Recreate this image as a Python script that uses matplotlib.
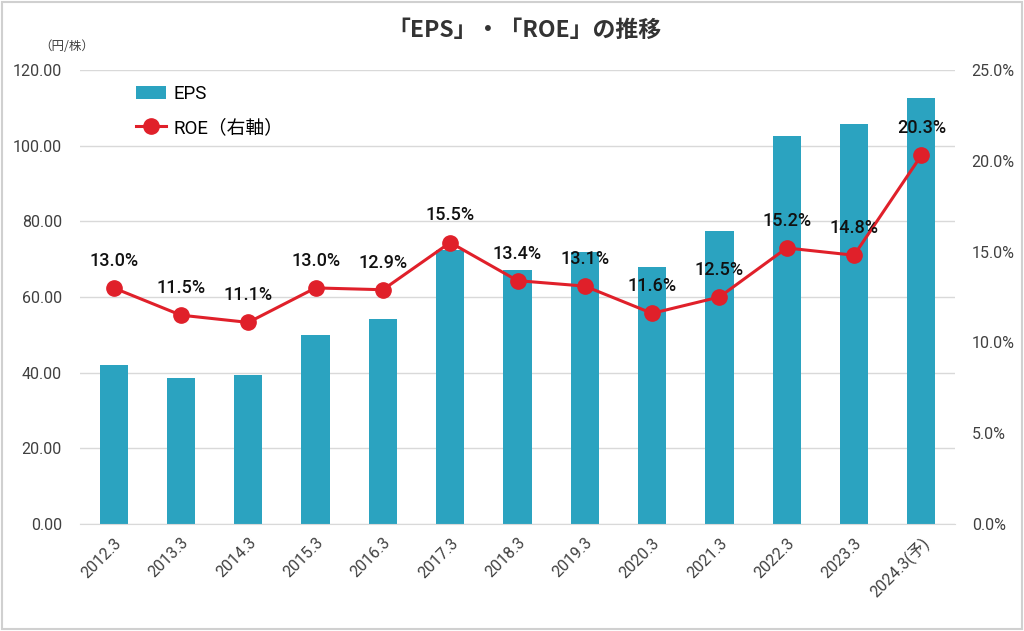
import matplotlib
matplotlib.use("Agg")
import matplotlib.pyplot as plt
from matplotlib.lines import Line2D
from matplotlib.patches import Patch
import numpy as np

categories = ["2012.3", "2013.3", "2014.3", "2015.3", "2016.3", "2017.3", "2018.3",
              "2019.3", "2020.3", "2021.3", "2022.3", "2023.3", "2024.3(予)"]
eps = [42.0, 38.6, 39.4, 50.0, 54.2, 72.4, 67.1, 71.9, 67.9, 77.5, 102.6, 105.7, 112.6]
roe = [13.0, 11.5, 11.1, 13.0, 12.9, 15.5, 13.4, 13.1, 11.6, 12.5, 15.2, 14.8, 20.3]

fam = ["Roboto", "Noto Sans CJK JP", "DejaVu Sans"]
plt.rcParams['font.family'] = fam

fig = plt.figure(figsize=(10.24, 6.31), dpi=100)
ax = fig.add_axes([80/1024, 1-524/631, 875/1024, 454/631])
ax2 = ax.twinx()

x = np.arange(len(categories))
bar_color = "#2BA3C0"
line_color = "#E0202A"
ax.bar(x, eps, width=0.42, color=bar_color, zorder=2)
ax.set_ylim(0, 120)
ax.set_yticks(np.arange(0, 121, 20))
ax.set_yticklabels([f"{v:.2f}" for v in np.arange(0, 121, 20)])
ax.set_xlim(-0.5, len(categories) - 0.5)
ax.grid(axis="y", color="#D9D9D9", linewidth=1, zorder=0)
ax.set_axisbelow(True)
ax.set_xticks(x)
ax.set_xticklabels(categories, rotation=45, ha="right", rotation_mode="anchor")

ax2.plot(x, roe, color=line_color, linewidth=2.2, marker="o", markersize=11, zorder=3)
ax2.set_ylim(0, 25)
ax2.set_yticks(np.arange(0, 26, 5))
ax2.set_yticklabels([f"{v:.1f}%" for v in np.arange(0, 26, 5)])
for xi, v in zip(x, roe):
    ax2.annotate(f"{v:.1f}%", (xi, v), xytext=(0, 13), textcoords="offset points",
                 ha="center", va="bottom", fontsize=13, color="#111111",
                 fontweight="medium", family=["Roboto", "DejaVu Sans"])

for a in (ax, ax2):
    for s in a.spines.values():
        s.set_visible(False)
    a.tick_params(length=0, labelsize=11.5, colors="#404040")
ax.tick_params(axis="y", pad=13)
ax2.tick_params(axis="y", pad=12)
ax.tick_params(axis="x", pad=8)
ax.spines["bottom"].set_visible(True)
ax.spines["bottom"].set_color("#D9D9D9")

handles = [Patch(facecolor=bar_color),
           Line2D([], [], color=line_color, linewidth=2.2, marker="o", markersize=11)]
fig.legend(handles, ["EPS", "ROE（右軸）"], loc="upper left",
           bbox_to_anchor=(136/1024, 1-85/631), frameon=False,
           borderpad=0, borderaxespad=0,
           handlelength=1.6, handletextpad=0.4, labelspacing=0.85,
           prop={"family": fam, "size": 13.5})

fig.text(0.512, 1-30/631, "「EPS」・「ROE」の推移", ha="center", va="center",
         fontsize=16.5, fontweight="bold", color="#333333",
         family=["Noto Sans CJK JP", "DejaVu Sans"])
fig.text(67/1024, 1-47/631, "（円/株）", ha="center", va="center", fontsize=9,
         color="#404040", family=["Noto Sans CJK JP", "DejaVu Sans"])

fig.patches.append(plt.Rectangle((0.002, 0.003), 0.996, 0.994, transform=fig.transFigure,
                                 fill=False, edgecolor="#D0D0D0", linewidth=1.5))
fig.savefig("out.png", dpi=100)
